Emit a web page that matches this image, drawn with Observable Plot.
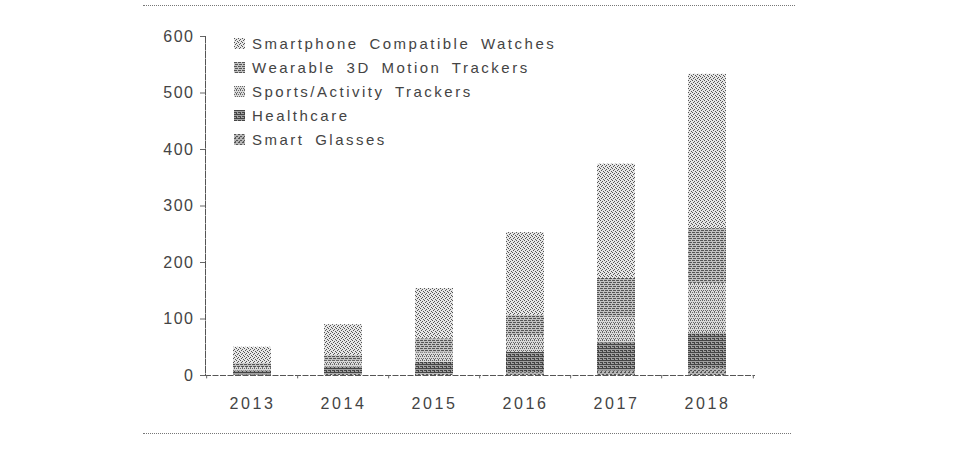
<!DOCTYPE html>
<html>
<head>
<meta charset="utf-8">
<script src="https://cdn.jsdelivr.net/npm/d3@7"></script>
<script src="https://cdn.jsdelivr.net/npm/@observablehq/plot@0.6"></script>
<style>
  html, body { margin: 0; padding: 0; background: #fff; }
  #wrap { position: relative; width: 959px; height: 449px; overflow: hidden; font-family: "Liberation Sans", Arial, sans-serif; }
  .hr { position: absolute; height: 0; border-top: 1.5px dotted #777; }
  #legend { position: absolute; left: 234px; top: 31px; }
  .li { display: flex; align-items: center; height: 24px; font-size: 15px; color: #444; letter-spacing: 2.5px; word-spacing: 4px; }
  .li svg { margin-right: 7px; }
  #wrap svg g[aria-label="x-axis tick label"] text { letter-spacing: 2.6px; }
  #wrap svg g[aria-label="y-axis tick label"] text { letter-spacing: 1.5px; }
</style>
</head>
<body>
<div id="wrap"></div>
<script>
const years = ["2013", "2014", "2015", "2016", "2017", "2018"];
// stacking order, bottom to top
const seriesNames = ["Smart Glasses", "Healthcare", "Sports/Activity Trackers", "Wearable 3D Motion Trackers", "Smartphone Compatible Watches"];
const smartGlasses   = [1, 2, 3, 5, 8, 12];
const healthcare     = [7, 13, 20, 36, 50, 62];
const sportsActivity = [6, 10, 17, 30, 45, 89];
const wearable3D     = [7, 10, 25, 35, 69, 97];
const smartwatches   = [29, 55, 89, 147, 202, 273];
const yTicks = [0, 100, 200, 300, 400, 500, 600];
// legend order (top to bottom)
const legendOrder = ["Smartphone Compatible Watches", "Wearable 3D Motion Trackers", "Sports/Activity Trackers", "Healthcare", "Smart Glasses"];

const seriesValues = [smartGlasses, healthcare, sportsActivity, wearable3D, smartwatches];
const data = [];
seriesNames.forEach((s, si) => years.forEach((y, yi) => data.push({year: y, series: s, value: seriesValues[si][yi]})));

const patternIds = ["pSG", "pHC", "pSP", "pW3", "pSW"];
const fills = patternIds.map(id => `url(#${id})`);

const step = 550 / 6;

const chart = Plot.plot({
  width: 959,
  height: 449,
  marginLeft: 205,
  marginRight: 204,
  marginTop: 36,
  marginBottom: 74,
  style: {fontFamily: "'Liberation Sans', Arial, sans-serif", fontSize: "16px", color: "#444", background: "transparent"},
  x: {domain: years, paddingInner: 0.58, paddingOuter: 0.29, label: null},
  y: {domain: [0, 600], label: null},
  color: {domain: seriesNames, range: fills},
  marks: [
    Plot.barY(data, {x: "year", y: "value", fill: "series", order: seriesNames}),
    Plot.ruleY([0], {stroke: "#555", strokeWidth: 1, strokeDasharray: "6,1.5"}),
    Plot.frame({anchor: "left", stroke: "#555", strokeDasharray: "6,1.5"}),
    Plot.ruleX(years, {x: d => d, y1: 0, y2: -6, dx: -step / 2, stroke: "#666"}),
    Plot.ruleX(years.slice(-1), {x: d => d, y1: 0, y2: -6, dx: step / 2, stroke: "#666"}),
    Plot.axisY({ticks: yTicks, tickSize: 5, tickPadding: 6, tickFormat: d => String(d), stroke: "#666", fill: "#444", fontSize: 16, label: null}),
    Plot.axisX({tickSize: 0, tickPadding: 22, fill: "#444", fontSize: 16, label: null})
  ]
});

// texture patterns (scanned stipple look)
const svgNS = "http://www.w3.org/2000/svg";
const defs = document.createElementNS(svgNS, "defs");
function pattern(id, base, dots, dotColor) {
  const p = document.createElementNS(svgNS, "pattern");
  p.setAttribute("id", id);
  p.setAttribute("patternUnits", "userSpaceOnUse");
  p.setAttribute("width", 4);
  p.setAttribute("height", 4);
  const r = document.createElementNS(svgNS, "rect");
  r.setAttribute("width", 4); r.setAttribute("height", 4); r.setAttribute("fill", base);
  p.appendChild(r);
  dots.forEach(([dx, dy, w]) => {
    const d = document.createElementNS(svgNS, "rect");
    d.setAttribute("x", dx); d.setAttribute("y", dy);
    d.setAttribute("width", w || 1); d.setAttribute("height", 1);
    d.setAttribute("fill", dotColor);
    p.appendChild(d);
  });
  defs.appendChild(p);
}
pattern("pSW", "#e6e6e6", [[0,0],[2,1],[1,2],[3,3]], "#555");
pattern("pW3", "#c2c2c2", [[0,0,3],[1,2,3]], "#555");
pattern("pSP", "#dadada", [[0,0],[2,0],[1,2],[3,2],[2,3]], "#666");
pattern("pHC", "#a0a0a0", [[0,0,4],[0,2,3],[2,3]], "#444");
pattern("pSG", "#b5b5b5", [[0,0,2],[2,2,2],[1,3]], "#555");
chart.insertBefore(defs, chart.firstChild);

const wrap = document.getElementById("wrap");
wrap.appendChild(chart);
chart.style.position = "absolute";
chart.style.left = "0";
chart.style.top = "0";

// page rules (scan borders)
[[5, 143, 652], [433, 143, 648]].forEach(([top, left, w]) => {
  const d = document.createElement("div");
  d.className = "hr";
  d.style.top = top + "px"; d.style.left = left + "px"; d.style.width = w + "px";
  wrap.appendChild(d);
});

// legend
const legend = document.createElement("div");
legend.id = "legend";
legendOrder.forEach(name => {
  const i = seriesNames.indexOf(name);
  const row = document.createElement("div");
  row.className = "li";
  row.innerHTML = `<svg width="11" height="11"><rect width="11" height="11" fill="${fills[i]}"/></svg><span>${name}</span>`;
  legend.appendChild(row);
});
wrap.appendChild(legend);
</script>
</body>
</html>
